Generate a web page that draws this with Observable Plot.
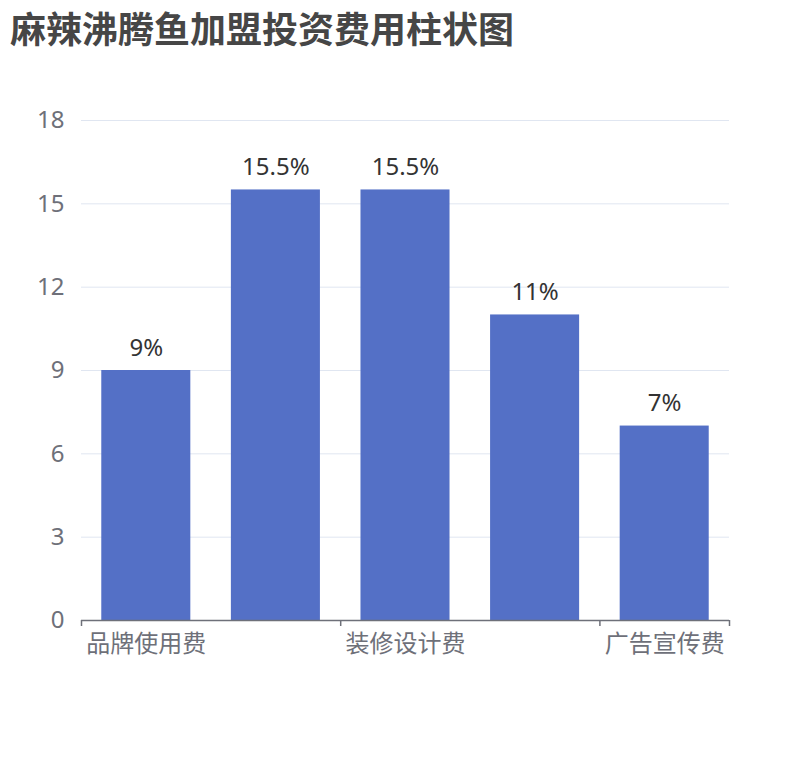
<!DOCTYPE html>
<html>
<head>
<meta charset="utf-8">
<script src="https://cdn.jsdelivr.net/npm/d3@7"></script>
<script src="https://cdn.jsdelivr.net/npm/@observablehq/plot@0.6"></script>
<style>
  html, body { margin: 0; padding: 0; background: #fff; }
  #wrap { position: relative; width: 810px; height: 760px; }
  #title { position: absolute; left: 10px; top: 5px; font-family: "Noto Sans CJK SC", "Noto Sans", sans-serif; font-weight: bold; font-size: 36px; line-height: 44px; color: #464646; white-space: nowrap; }
  #chart { position: absolute; left: 0; top: 0; }
</style>
</head>
<body>
<div id="wrap">
  <div id="chart"></div>
  <div id="title">麻辣沸腾鱼加盟投资费用柱状图</div>
</div>
<script>
const titleText = "麻辣沸腾鱼加盟投资费用柱状图";
const categories = ["品牌使用费", "店面租金费", "装修设计费", "设备采购费", "广告宣传费"];
const values = [9, 15.5, 15.5, 11, 7];
const labels = ["9%", "15.5%", "15.5%", "11%", "7%"];
const yTicks = [0, 3, 6, 9, 12, 15, 18];
const shownLabels = [categories[0], categories[2], categories[4]];

const data = categories.map((c, i) => ({cat: c, value: values[i], label: labels[i]}));

const W = 810, H = 760, ML = 81, MR = 81, MT = 120, MB = 140;
const step = (W - ML - MR) / categories.length;
const font = "'Noto Sans', 'Noto Sans CJK SC', sans-serif";
const axisColor = "#6E7079";

const plot = Plot.plot({
  width: W,
  height: H,
  marginLeft: ML,
  marginRight: MR,
  marginTop: MT,
  marginBottom: MB,
  style: {fontFamily: font, background: "#fff", overflow: "visible"},
  x: {domain: categories, paddingInner: 0.313, paddingOuter: 0.1565, round: false, axis: null},
  y: {domain: [0, 18], axis: null},
  marks: [
    Plot.gridY(yTicks, {stroke: "#E0E6F1", strokeOpacity: 1, strokeWidth: 1}),
    Plot.axisY(yTicks, {tickSize: 0, tickPadding: 17, fontSize: 24, fill: axisColor, label: null}),
    Plot.barY(data, {x: "cat", y: "value", fill: "#5470C6"}),
    Plot.ruleY([0], {stroke: axisColor, strokeWidth: 1.5}),
    Plot.ruleX([categories[0], categories[2], categories[4]], {x: d => d, y1: 0, y2: 0, dx: -step / 2, insetBottom: -6, stroke: axisColor, strokeWidth: 1.5}),
    Plot.ruleX([categories[4]], {x: d => d, y1: 0, y2: 0, dx: step / 2, insetBottom: -6, stroke: axisColor, strokeWidth: 1.5}),
    Plot.axisX(shownLabels, {tickSize: 0, tickPadding: 14, fontSize: 24, fill: axisColor, label: null}),
    Plot.text(data, {x: "cat", y: "value", text: "label", lineAnchor: "bottom", dy: -15, fontSize: 24, fill: "#333"})
  ]
});
document.getElementById("chart").appendChild(plot);
</script>
</body>
</html>
